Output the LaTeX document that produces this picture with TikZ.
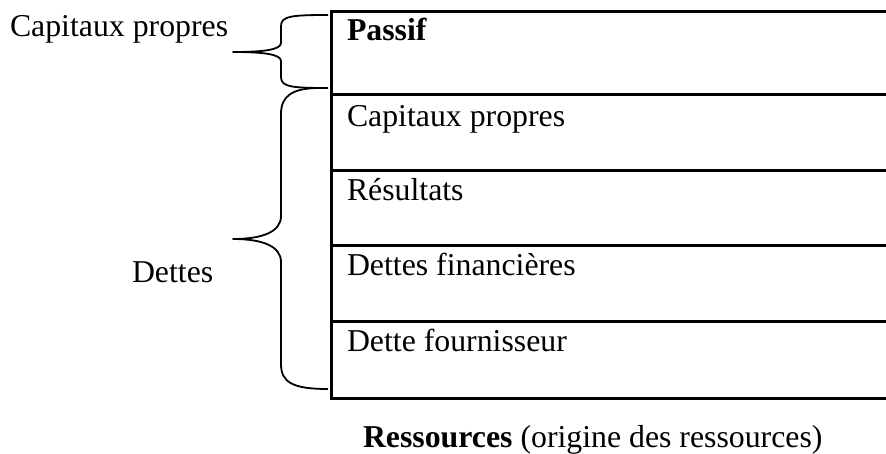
\documentclass[tikz,border=0pt]{standalone}
\usepackage{fontspec}
\setmainfont{Liberation Serif}
\begin{document}
\begin{tikzpicture}[x=1pt,y=-1pt,
  txt/.style={anchor=base west,inner sep=0pt,outer sep=0pt,font=\fontsize{31.8}{38}\selectfont},
  rule/.style={line width=3pt},
  brace/.style={line width=1.8pt,line join=round}]
\useasboundingbox (0,0) rectangle (886,454);

% table of the liabilities side
\coordinate (t0) at (331,12);
\coordinate (t1) at (331,95);
\coordinate (t2) at (331,171);
\coordinate (t3) at (331,246);
\coordinate (t4) at (331,321);
\coordinate (t5) at (331,398);
\draw[rule] (886,12) -- (t0) -- (t5) -- (886,398);
\foreach \r in {t1,t2,t3,t4}
  \draw[rule] (\r) -- (886,0 |- \r);

\node[txt] (passif) at (347,41) {\textbf{Passif}};
\node[txt] (cp)  at (347,127) {Capitaux propres};
\node[txt] (res) at (347,201) {Résultats};
\node[txt] (df)  at (347,276) {Dettes financières};
\node[txt] (dfo) at (347,351) {Dette fournisseur};

% labels on the left
\node[txt] (lcp) at (10,37) {Capitaux propres};
\node[txt] (ldt) at (132,283) {Dettes};

% caption
\node[txt] (cap) at (363,447) {\textbf{Ressources} (origine des ressources)};

% upper brace
\coordinate (b1top) at (328,15);
\coordinate (b1tip) at (233,52);
\coordinate (b1bot) at (328,88);
\draw[brace] (b1top) .. controls (292,15) and (281,16) .. (281,26)
  -- (281,43) .. controls (281,50) and (262,52) .. (b1tip)
  .. controls (262,52) and (281,54) .. (281,61)
  -- (281,77) .. controls (281,87) and (292,88) .. (b1bot);

% lower brace
\coordinate (b2top) at (320,88);
\coordinate (b2tip) at (233,239);
\coordinate (b2bot) at (328,389);
\draw[brace] (b2top) .. controls (292,88) and (281,96) .. (281,114)
  -- (281,216) .. controls (281,232) and (262,239) .. (b2tip)
  .. controls (262,239) and (281,246) .. (281,262)
  -- (281,364) .. controls (281,382) and (292,389) .. (b2bot);
\end{tikzpicture}
\end{document}
